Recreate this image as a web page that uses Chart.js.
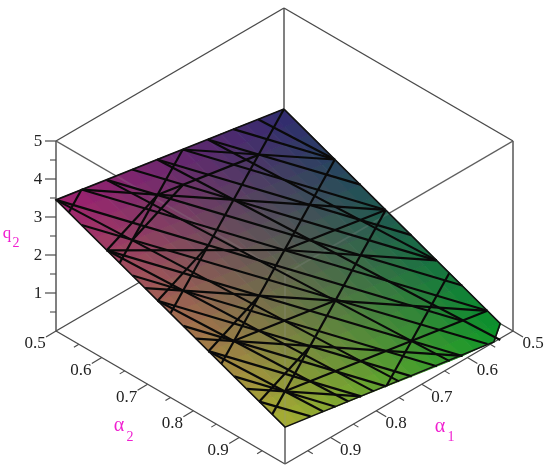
<!DOCTYPE html>
<html>
<head>
<meta charset="utf-8">
<script src="https://cdn.jsdelivr.net/npm/chart.js@4"></script>
<style>
  html, body { margin: 0; padding: 0; background: #fff; }
  canvas { display: block; }
</style>
</head>
<body>
<canvas id="chart" width="550" height="476"></canvas>
<script>
// axis ticks
const alphaLabelTicks = [0.5, 0.6, 0.7, 0.8, 0.9];
const alphaMinorTicks = [0.55, 0.65, 0.75, 0.85, 0.95];
const q2Ticks = [1, 2, 3, 4, 5];
const q2MinorTicks = [0.5, 1.5, 2.5, 3.5, 4.5];

// surface samples, rows follow alpha1, columns follow alpha2
const alpha1Grid = [0.5, 0.556, 0.611, 0.667, 0.722, 0.778, 0.833, 0.889, 0.944, 1.0];
const alpha2Grid = [0.5, 0.556, 0.611, 0.667, 0.722, 0.778, 0.833, 0.889, 0.944, 1.0];
const q2Grid = [
  [2.34, 2.07, 1.79, 1.52, 1.24, 0.97, 0.69, 0.42, 0.14, -0.13],
  [2.46, 2.19, 1.92, 1.64, 1.37, 1.09, 0.82, 0.54, 0.27, 0.05],
  [2.59, 2.31, 2.04, 1.76, 1.49, 1.22, 0.94, 0.67, 0.39, 0.12],
  [2.71, 2.44, 2.16, 1.89, 1.61, 1.34, 1.06, 0.79, 0.51, 0.24],
  [2.83, 2.56, 2.29, 2.01, 1.74, 1.46, 1.19, 0.91, 0.64, 0.36],
  [2.96, 2.68, 2.41, 2.13, 1.86, 1.59, 1.31, 1.04, 0.76, 0.49],
  [3.08, 2.81, 2.53, 2.26, 1.98, 1.71, 1.43, 1.16, 0.89, 0.61],
  [3.20, 2.93, 2.66, 2.38, 2.11, 1.83, 1.56, 1.28, 1.01, 0.73],
  [3.33, 3.05, 2.78, 2.50, 2.23, 1.95, 1.68, 1.41, 1.13, 0.86],
  [3.45, 3.18, 2.90, 2.63, 2.35, 2.08, 1.80, 1.53, 1.25, 0.97]
];

// mesh lines as [row, col, row, col] positions in the grid above
const meshSteep = [
  [8, 0, 9, 0.5], [4, 0, 9, 2.5], [0, 0, 9, 4.5], [0, 2, 9, 6.5], [0, 4, 9, 8.5], [0, 6.5, 5, 9]
];
const meshFlat = [
  [4, 0, 0, 2], [8, 0, 0, 4], [9, 2, 4, 4], [4, 4, 0, 6], [9, 3.5, 6, 5], [6, 5, 0, 8],
  [9, 5.5, 6, 7], [6, 7, 2, 9], [9, 7.5, 6, 9]
];
const meshDiagonal = [
  [2, 0, 0, 2], [3, 0, 0, 3], [4, 0, 0, 4], [5, 0, 0, 5], [6, 0, 0, 6], [7, 0, 0, 7], [8, 0, 0, 8],
  [9, 0, 1, 8], [9, 1, 1, 9], [9, 2, 2, 9], [9, 3, 3, 9], [9, 4, 4, 9], [9, 5, 5, 9], [9, 6, 6, 9],
  [9, 7, 7, 9], [9, 8, 8, 9]
];
const meshShallow = [
  [1, 0, 0, 2], [3, 0, 0, 6], [5, 0, 0.5, 9], [7, 0, 2.5, 9], [9, 0, 4.5, 9], [9, 2, 5.5, 9], [9, 4, 6.5, 9], [9, 6, 7.5, 9]
];
const meshRising = [
  [8, 8, 0, 8], [8, 6, 4, 6], [4, 4, 0, 4], [6, 1, 2, 1]
];
const meshCross = [
  [9, 2, 6, 1], [8, 2, 5, 1], [9, 4, 6, 3], [9, 6, 6, 5], [9, 8, 6, 7]
];

// view of the box on the page
function project(a1, a2, q) {
  const u = (a1 - 0.5) / 0.5;
  const v = (a2 - 0.5) / 0.5;
  return { x: 284 - 228 * u + 229 * v, y: 198 + 133 * u + 133 * v - 38 * q };
}

function lerp(a, b, t) { return a + (b - a) * t; }

function gridPoint(r, c) {
  const r0 = Math.min(Math.floor(r), 8), c0 = Math.min(Math.floor(c), 8);
  const tr = r - r0, tc = c - c0;
  const q = lerp(lerp(q2Grid[r0][c0], q2Grid[r0][c0 + 1], tc), lerp(q2Grid[r0 + 1][c0], q2Grid[r0 + 1][c0 + 1], tc), tr);
  return { a1: lerp(alpha1Grid[r0], alpha1Grid[r0 + 1], tr), a2: lerp(alpha2Grid[c0], alpha2Grid[c0 + 1], tc), q };
}

function gridXY(r, c) {
  const p = gridPoint(r, c);
  return project(p.a1, p.a2, p.q);
}

// colour of the surface, mixed from its four corners
function surfaceColor(r, c) {
  const u = r / 9, v = c / 9;
  const mix = (back, left, right, front) =>
    Math.round(lerp(lerp(back, right, v), lerp(left, front, v), u));
  return `rgb(${mix(48, 160, 6, 168)},${mix(42, 30, 150, 176)},${mix(112, 112, 40, 50)})`;
}

// the surface stops at q2 = 0
function clipQuad(corners) {
  const out = [];
  corners.forEach((p, i) => {
    const n = corners[(i + 1) % corners.length];
    const qp = gridPoint(p[0], p[1]).q, qn = gridPoint(n[0], n[1]).q;
    if (qp >= 0) out.push(p);
    if ((qp >= 0) !== (qn >= 0)) {
      const t = qp / (qp - qn);
      out.push([lerp(p[0], n[0], t), lerp(p[1], n[1], t)]);
    }
  });
  return out;
}

function lineSet(points, color, width, order) {
  return {
    data: points, showLine: true, pointRadius: 0, borderColor: color,
    borderWidth: width, fill: false, order, tension: 0
  };
}

const datasets = [];

// box parts behind the surface
const boxColor = '#4a4a4a';
const top5 = 5, corners = {
  back: [0.5, 0.5], left: [1, 0.5], right: [0.5, 1], front: [1, 1]
};
const boxPt = (name, q) => project(corners[name][0], corners[name][1], q);
[
  [boxPt('back', 0), boxPt('left', 0)], [boxPt('back', 0), boxPt('right', 0)],
  [boxPt('back', 0), boxPt('back', top5)],
  [boxPt('back', top5), boxPt('left', top5)], [boxPt('back', top5), boxPt('right', top5)],
  [boxPt('left', top5), boxPt('front', top5)], [boxPt('right', top5), boxPt('front', top5)],
  [boxPt('front', 0), boxPt('front', top5)],
  [boxPt('left', 0), boxPt('left', top5)], [boxPt('right', 0), boxPt('right', top5)],
  [boxPt('left', 0), boxPt('front', 0)], [boxPt('right', 0), boxPt('front', 0)]
].forEach(seg => datasets.push(lineSet(seg, boxColor, 1.4, 50)));

// axis tick marks
alphaLabelTicks.forEach(t => {
  const a = project(1, t, 0), b = project(t, 1, 0);
  datasets.push(lineSet([a, { x: a.x - 10, y: a.y + 6 }], boxColor, 1.2, 50));
  datasets.push(lineSet([b, { x: b.x + 10, y: b.y + 6 }], boxColor, 1.2, 50));
});
alphaMinorTicks.forEach(t => {
  const a = project(1, t, 0), b = project(t, 1, 0);
  datasets.push(lineSet([a, { x: a.x - 5, y: a.y + 3 }], boxColor, 1.1, 50));
  datasets.push(lineSet([b, { x: b.x + 5, y: b.y + 3 }], boxColor, 1.1, 50));
});
q2Ticks.forEach(t => {
  const a = project(1, 0.5, t);
  datasets.push(lineSet([a, { x: a.x - 11, y: a.y }], boxColor, 1.2, 50));
});
q2MinorTicks.forEach(t => {
  const a = project(1, 0.5, t);
  datasets.push(lineSet([a, { x: a.x - 6, y: a.y }], boxColor, 1.1, 50));
});

// shaded surface
const shadeStep = 0.5;
for (let r = 0; r < 9; r += shadeStep) {
  for (let c = 0; c < 9; c += shadeStep) {
    const poly = clipQuad([[r, c], [r + shadeStep, c], [r + shadeStep, c + shadeStep], [r, c + shadeStep]]);
    if (poly.length < 3) continue;
    const color = surfaceColor(r + shadeStep / 2, c + shadeStep / 2);
    const pts = poly.map(p => gridXY(p[0], p[1]));
    pts.push(pts[0]);
    datasets.push({
      data: pts, showLine: true, pointRadius: 0, fill: 'shape', backgroundColor: color,
      borderColor: color, borderWidth: 1, order: 40
    });
  }
}

// front box lines show faintly through the surface
const ghost = 'rgba(150,150,150,0.22)';
[
  [boxPt('left', top5), boxPt('front', top5)], [boxPt('right', top5), boxPt('front', top5)],
  [boxPt('front', 0), boxPt('front', top5)]
].forEach(seg => datasets.push(lineSet(seg, ghost, 2, 30)));

// mesh
[meshSteep, meshFlat, meshDiagonal, meshShallow, meshRising, meshCross].forEach(family => {
  family.forEach(m => {
    datasets.push(lineSet([gridXY(m[0], m[1]), gridXY(m[2], m[3])], '#0a0a0a', 2.2, 20));
  });
});

// surface outline
const rim = [[0, 0], [9, 0], [9, 9], [0.75, 9], [0, 8.5], [0, 0]];
datasets.push(lineSet(rim.map(p => gridXY(p[0], p[1])), '#111', 1.6, 10));

const textPlugin = {
  id: 'plotText',
  afterDatasetsDraw(chart) {
    const { ctx, scales: { x, y } } = chart;
    const at = p => ({ x: x.getPixelForValue(p.x), y: y.getPixelForValue(p.y) });
    ctx.save();
    ctx.fillStyle = '#222';
    ctx.font = '17px "Liberation Serif", serif';
    ctx.textAlign = 'center';
    ctx.textBaseline = 'middle';
    alphaLabelTicks.forEach(t => {
      const a = at(project(1, t, 0)), b = at(project(t, 1, 0));
      ctx.fillText(t.toFixed(1), a.x - 21, a.y + 13);
      ctx.fillText(t.toFixed(1), b.x + 20, b.y + 13);
    });
    q2Ticks.forEach(t => {
      const a = at(project(1, 0.5, t));
      ctx.fillText(String(t), a.x - 18, a.y + 1);
    });
    ctx.fillStyle = '#f01fd0';
    ctx.font = '20px "Liberation Serif", serif';
    ctx.fillText('α', 119, 426);
    ctx.fillText('α', 440, 427);
    ctx.font = '17px "Liberation Serif", serif';
    ctx.fillText('q', 7, 234);
    ctx.font = '14px "Liberation Serif", serif';
    ctx.fillText('2', 16, 243);
    ctx.fillText('2', 130, 437);
    ctx.fillText('1', 451, 437);
    ctx.restore();
  }
};

new Chart(document.getElementById('chart'), {
  type: 'scatter',
  data: { datasets },
  options: {
    responsive: false,
    animation: false,
    layout: { padding: 0 },
    plugins: { legend: { display: false }, tooltip: { enabled: false } },
    scales: {
      x: { type: 'linear', min: 0, max: 550, display: false },
      y: { type: 'linear', min: 0, max: 476, reverse: true, display: false }
    }
  },
  plugins: [textPlugin]
});
</script>
</body>
</html>
